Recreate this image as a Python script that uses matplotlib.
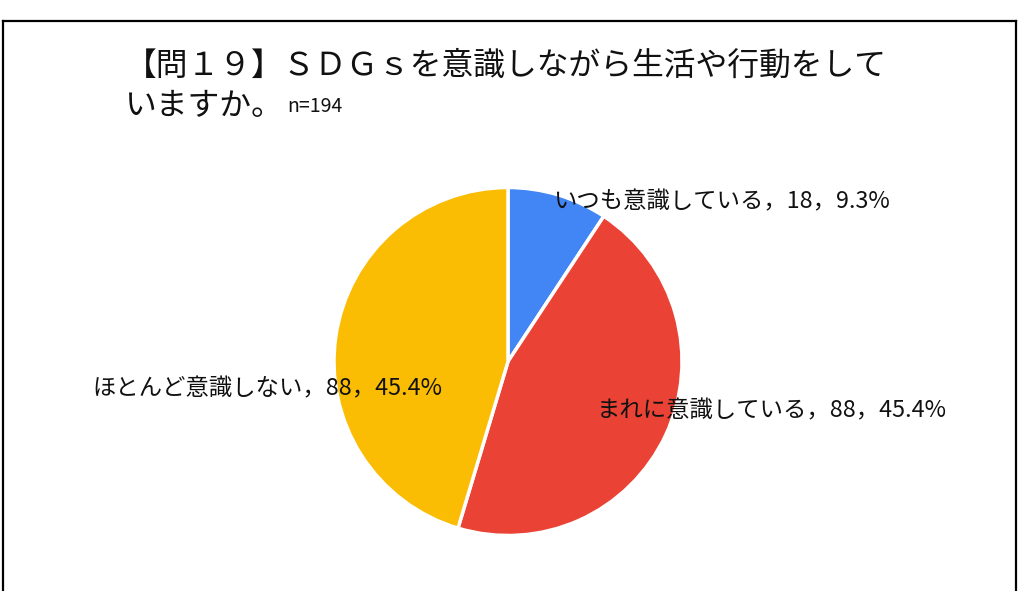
import matplotlib.pyplot as plt
from matplotlib.lines import Line2D

plt.rcParams["font.family"] = ["Noto Sans CJK JP", "DejaVu Sans"]

# data
categories = ["いつも意識している", "まれに意識している", "ほとんど意識しない"]
counts = [18, 88, 88]
percents = [9.3, 45.4, 45.4]
colors = ["#4285F4", "#EA4335", "#FBBC04"]

W, H = 1022, 591
fig = plt.figure(figsize=(W / 100, H / 100), dpi=100)


def fx(px):
    return px / W


def fy(py):
    return 1 - py / H


# chart frame (bottom edge runs off the image)
frame_kw = dict(color="black", linewidth=1.6, transform=fig.transFigure)
fig.add_artist(Line2D([fx(2.5), fx(1015.5)], [fy(20.5), fy(20.5)], **frame_kw))
fig.add_artist(Line2D([fx(2.5), fx(2.5)], [fy(20.5), fy(600)], **frame_kw))
fig.add_artist(Line2D([fx(1015.5), fx(1015.5)], [fy(20.5), fy(600)], **frame_kw))

# title
fig.text(fx(125), fy(66), "【問１９】ＳＤＧｓを意識しながら生活や行動をして",
         fontsize=22.9, va="center", ha="left", color="#111111")
fig.text(fx(125), fy(106), "いますか。", fontsize=22.9, va="center", ha="left",
         color="#111111")
fig.text(fx(287), fy(107), "n=194", fontsize=14, va="center", ha="left",
         color="#111111")

# pie
cx, cy, r = 508, 361.5, 174
ax = fig.add_axes([fx(cx - r), fy(cy + r), fx(2 * r), 2 * r / H])
ax.pie(counts, colors=colors, startangle=90, counterclock=False,
       wedgeprops=dict(edgecolor="white", linewidth=2.5))
ax.set_xlim(-1, 1)
ax.set_ylim(-1, 1)
ax.set_aspect("auto")
ax.axis("off")

# labels
label_pos = [(553, 202), (597, 411), (92, 389)]
for (lx, ly), cat, n, p in zip(label_pos, categories, counts, percents):
    fig.text(fx(lx), fy(ly), f"{cat}，{n}，{p}%", fontsize=16.8,
             va="center", ha="left", color="#111111")

fig.savefig("out.png", dpi=100)
